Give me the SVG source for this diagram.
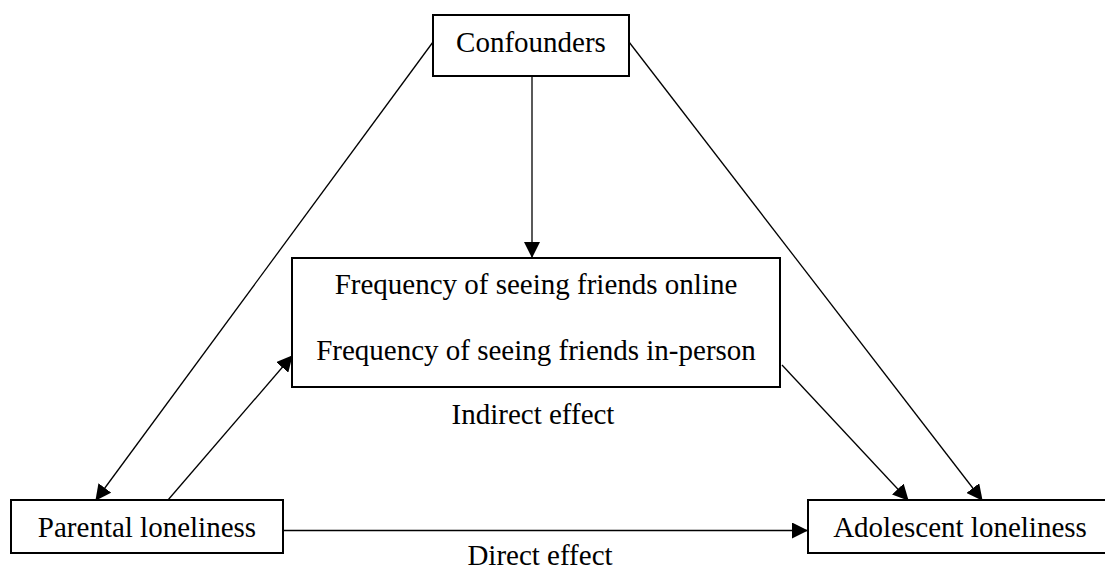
<svg xmlns="http://www.w3.org/2000/svg" width="1105" height="571" viewBox="0 0 1105 571">
<style>
.box{fill:#fff;stroke:#000;stroke-width:2}
.lbl{font-family:"Liberation Serif","Times New Roman",serif;font-size:29px;fill:#000;text-anchor:middle}
.edge{stroke:#000;stroke-width:1.3;fill:none}
</style>
<defs>
<marker id="ah" markerUnits="userSpaceOnUse" markerWidth="16" markerHeight="16" viewBox="0 0 16 16" refX="15" refY="8" orient="auto">
<path d="M0,0 L16,8 L0,16 Z" fill="#000"/>
</marker>
</defs>
<rect width="1105" height="571" fill="#fff"/>
<g id="connectors">
<line class="edge" x1="433" y1="42" x2="96" y2="500" marker-end="url(#ah)"/>
<line class="edge" x1="629" y1="42" x2="982" y2="500" marker-end="url(#ah)"/>
<line class="edge" x1="532" y1="76" x2="532" y2="257" marker-end="url(#ah)"/>
<line class="edge" x1="168" y1="500" x2="292" y2="356" marker-end="url(#ah)"/>
<line class="edge" x1="782" y1="365" x2="908" y2="500" marker-end="url(#ah)"/>
<line class="edge" x1="283" y1="530.5" x2="807" y2="530.5" marker-end="url(#ah)"/>
</g>
<g id="confounders">
<rect class="box" x="433" y="15" width="196" height="61"/>
<text class="lbl" x="531" y="52">Confounders</text>
</g>
<g id="mediators">
<rect class="box" x="292" y="258" width="488" height="129"/>
<text class="lbl" x="536" y="294">Frequency of seeing friends online</text>
<text class="lbl" x="536" y="360">Frequency of seeing friends in-person</text>
</g>
<g id="indirect-label">
<text class="lbl" x="533" y="424">Indirect effect</text>
</g>
<g id="parental">
<rect class="box" x="11" y="500" width="272" height="53"/>
<text class="lbl" x="147" y="537">Parental loneliness</text>
</g>
<g id="adolescent">
<rect class="box" x="808" y="500" width="310" height="53"/>
<text class="lbl" x="960" y="537">Adolescent loneliness</text>
</g>
<g id="direct-label">
<text class="lbl" x="540" y="565">Direct effect</text>
</g>
</svg>
